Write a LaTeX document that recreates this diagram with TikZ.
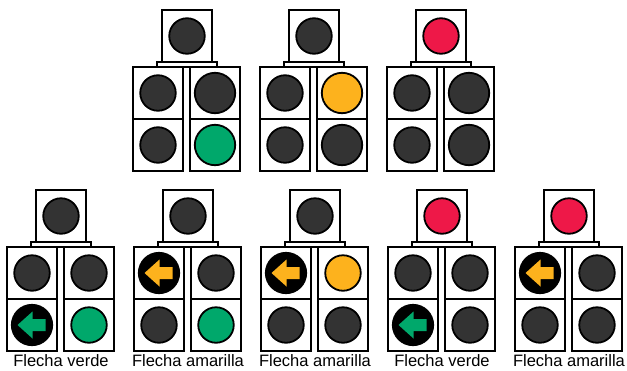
\documentclass[tikz,border=0pt]{standalone}
\usepackage{fontspec}
\setmainfont{Liberation Sans}
\usepackage{tikz}
\definecolor{gris}{HTML}{333333}
\definecolor{verde}{HTML}{00A86B}
\definecolor{ambar}{HTML}{FDB21D}
\definecolor{rojo}{HTML}{EE1848}

% one signal head: name, centre x, top y, lamp styles (top, left top, left bottom, right top, right bottom), right lamp size
\newcommand{\semaforo}[9]{%
  \node[barra] (#1b) at (#2,#3+54.5) {};
  \node[caja] (#1c) at (#2,#3+26) {};
  \node[caja] (#1i1) at (#2-29,#3+83) {};
  \node[caja] (#1i2) at (#2-29,#3+135) {};
  \node[caja] (#1d1) at (#2+28,#3+83) {};
  \node[caja] (#1d2) at (#2+28,#3+135) {};
  \node[luz,#4] (#1lc) at (#1c) {};
  \node[luz,#5] (#1li1) at (#1i1) {};
  \node[luz,#6] (#1li2) at (#1i2) {};
  \node[#9,#7] (#1ld1) at (#1d1) {};
  \node[#9,#8] (#1ld2) at (#1d2) {};
}
\newcommand{\flecha}[2]{%
  \fill[#2,shift={(#1.center)}] (-14.5,0) -- (0.5,-13.5) -- (0.5,-6) -- (13.5,-6)
    -- (13.5,6) -- (0.5,6) -- (0.5,13.5) -- cycle;
}

\begin{document}
\begin{tikzpicture}[
  x=1pt,y=-1pt,
  caja/.style={draw,line width=1.9pt,fill=white,minimum width=50pt,minimum height=52pt,inner sep=0pt,outer sep=0pt},
  barra/.style={draw,line width=1.9pt,fill=white,minimum width=60pt,minimum height=5pt,inner sep=0pt},
  luz/.style={circle,draw,line width=1.8pt,inner sep=0pt,minimum size=35.5pt},
  luzgrande/.style={luz,minimum size=40.4pt},
  apagada/.style={fill=gris},
  negra/.style={fill=black,minimum size=40.4pt},
  rotulo/.style={font=\fontsize{16.5}{18}\selectfont,anchor=base,inner sep=0pt}
]
  \useasboundingbox (0,0) rectangle (627,370);

  % top row
  \semaforo{A}{187}{10}{apagada}{apagada}{apagada}{apagada}{fill=verde}{luzgrande}
  \semaforo{B}{314}{10}{apagada}{apagada}{apagada}{fill=ambar}{apagada}{luzgrande}
  \semaforo{C}{441}{10}{fill=rojo}{apagada}{apagada}{apagada}{apagada}{luzgrande}

  % bottom row, with arrows
  \semaforo{D}{61}{190}{apagada}{apagada}{negra}{apagada}{fill=verde}{luz}
  \flecha{Dli2}{verde}
  \semaforo{E}{188}{190}{apagada}{negra}{apagada}{apagada}{fill=verde}{luz}
  \flecha{Eli1}{ambar}
  \semaforo{F}{315}{190}{apagada}{negra}{apagada}{fill=ambar}{apagada}{luz}
  \flecha{Fli1}{ambar}
  \semaforo{G}{442}{190}{fill=rojo}{apagada}{negra}{apagada}{apagada}{luz}
  \flecha{Gli2}{verde}
  \semaforo{H}{569}{190}{fill=rojo}{negra}{apagada}{apagada}{apagada}{luz}
  \flecha{Hli1}{ambar}

  \node[rotulo] (tD) at (61,366.5) {Flecha verde};
  \node[rotulo] (tE) at (188,366.5) {Flecha amarilla};
  \node[rotulo] (tF) at (315,366.5) {Flecha amarilla};
  \node[rotulo] (tG) at (442,366.5) {Flecha verde};
  \node[rotulo] (tH) at (569,366.5) {Flecha amarilla};
\end{tikzpicture}
\end{document}
